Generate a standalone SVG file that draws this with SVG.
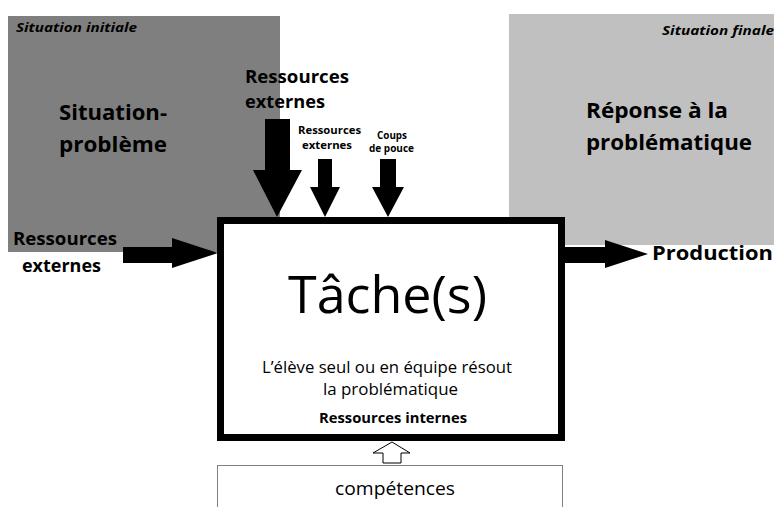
<svg xmlns="http://www.w3.org/2000/svg" width="774" height="507" viewBox="0 0 774 507">
<style>
text{font-family:"Open Sans","Noto Sans","DejaVu Sans",sans-serif;fill:#000}
.b{font-weight:bold}
.i{font-style:italic;font-weight:bold;font-size:13px}
.big{font-size:22px;font-weight:bold}
.lab{font-size:17px;font-weight:bold}
.arr{fill:#000;stroke:none}
</style>
<rect width="774" height="507" fill="#fff"/>
<g id="situation-initiale">
<rect x="8" y="16" width="272" height="236" fill="#7f7f7f"/>
<text class="i" x="16" y="32" textLength="121" lengthAdjust="spacingAndGlyphs">Situation initiale</text>
<text class="big" x="59" y="120" textLength="108" lengthAdjust="spacingAndGlyphs">Situation-</text>
<text class="big" x="59" y="152" textLength="108" lengthAdjust="spacingAndGlyphs">problème</text>
</g>
<g id="situation-finale">
<rect x="509" y="14" width="265" height="231" fill="#c0c0c0"/>
<text class="i" x="662" y="35" textLength="112" lengthAdjust="spacingAndGlyphs">Situation finale</text>
<text class="big" x="586" y="118" textLength="142" lengthAdjust="spacingAndGlyphs">Réponse à la</text>
<text class="big" x="586" y="150" textLength="166" lengthAdjust="spacingAndGlyphs">problématique</text>
</g>
<g id="connectors">
<polygon class="arr" points="123,247 172,247 172,238 218,253 172,268 172,263 123,263"/>
<polygon class="arr" points="265,119 290,119 290,170 302,170 277,217 253,170 265,170"/>
<polygon class="arr" points="318,159 332,159 332,187 340,187 325,217 310,187 318,187"/>
<polygon class="arr" points="380,159 396,159 396,187 404,187 388,217 372,187 380,187"/>
<polygon class="arr" points="562,247 605,247 605,240 648,254 605,268 605,263 562,263"/>
<polygon points="383,463 401,463 401,453 410,453 392,442 373,453 383,453" fill="#fff" stroke="#000" stroke-width="1"/>
</g>
<g id="label-ressources-gauche">
<text class="lab" x="13" y="245" textLength="104" lengthAdjust="spacingAndGlyphs">Ressources</text>
<text class="lab" x="22" y="272" textLength="79" lengthAdjust="spacingAndGlyphs">externes</text>
</g>
<g id="label-ressources-haut">
<text class="lab" x="245" y="83" textLength="104" lengthAdjust="spacingAndGlyphs">Ressources</text>
<text class="lab" x="245" y="108" textLength="80" lengthAdjust="spacingAndGlyphs">externes</text>
</g>
<g id="label-ressources-petit">
<text class="b" font-size="11" x="298" y="134" textLength="63" lengthAdjust="spacingAndGlyphs">Ressources</text>
<text class="b" font-size="11" x="302" y="149" textLength="50" lengthAdjust="spacingAndGlyphs">externes</text>
</g>
<g id="label-coups">
<text class="b" font-size="10" x="377" y="139" textLength="30" lengthAdjust="spacingAndGlyphs">Coups</text>
<text class="b" font-size="10" x="369" y="152" textLength="45" lengthAdjust="spacingAndGlyphs">de pouce</text>
</g>
<g id="production">
<text class="b" font-size="20" x="652" y="260" textLength="121" lengthAdjust="spacingAndGlyphs">Production</text>
</g>
<g id="taches">
<rect x="220.5" y="220.5" width="341" height="217" fill="#fff" stroke="#000" stroke-width="7"/>
<text x="288" y="313" font-size="52" textLength="199" lengthAdjust="spacingAndGlyphs">Tâche(s)</text>
<text x="262" y="373" font-size="16" textLength="250" lengthAdjust="spacingAndGlyphs">L’élève seul ou en équipe résout</text>
<text x="323" y="395" font-size="16" textLength="135" lengthAdjust="spacingAndGlyphs">la problématique</text>
<text class="b" x="319" y="423" font-size="14" textLength="148" lengthAdjust="spacingAndGlyphs">Ressources internes</text>
</g>
<g id="competences">
<rect x="217.5" y="465.5" width="345" height="50" fill="#fff" stroke="#7f7f7f" stroke-width="1"/>
<text x="335" y="495" font-size="18" textLength="120" lengthAdjust="spacingAndGlyphs">compétences</text>
</g>
</svg>
